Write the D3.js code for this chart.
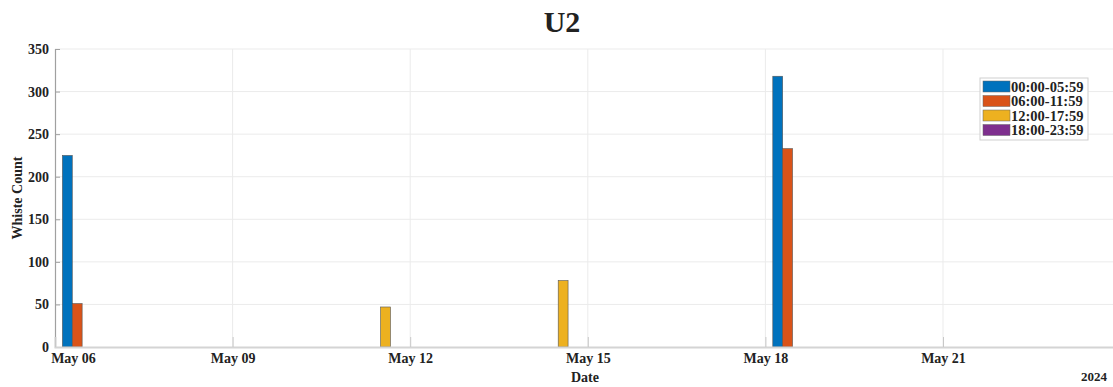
<html>
<head>
<script src="https://d3js.org/d3.v7.min.js"></script>
<style>
    body { margin: 0; background: #fff; }
    svg { display: block; }
    text { font-family: "Liberation Serif", "Times New Roman", serif; font-weight: bold; fill: #222; }
    .grid line { stroke: #ebebeb; stroke-width: 1; }
    .tick-label { font-size: 14px; }
</style>
</head>
<body>
<svg id="chart" width="1113" height="387"></svg>
<script>

    // days with counts (other days are zero)
    var days = ['2024-05-06', '2024-05-11', '2024-05-14', '2024-05-18'];
    var seriesNames = ['00:00-05:59', '06:00-11:59', '12:00-17:59', '18:00-23:59'];
    var seriesColors = ['#0072BD', '#D95319', '#EDB120', '#7E2F8E'];
    var night   = [225, 0, 0, 318];
    var morning = [51, 0, 0, 233];
    var noon    = [0, 47, 78, 0];
    var evening = [0, 0, 0, 0];
    var yTicks = [0, 50, 100, 150, 200, 250, 300, 350];
    var xTickDays = ['2024-05-06', '2024-05-09', '2024-05-12', '2024-05-15', '2024-05-18', '2024-05-21'];

    var seriesValues = [night, morning, noon, evening];
    var parse = d3.timeParse('%Y-%m-%d');

    var svg = d3.select('#chart');
    var margin = {left: 55, top: 49, bottom: 40};
    var height = +svg.attr('height');

    var x = d3.scaleTime()
        .domain([parse('2024-05-06'), parse('2024-05-24')])
        .range([margin.left, margin.left + 18 * 59.2]);

    var y = d3.scaleLinear()
        .domain([0, 350])
        .range([height - margin.bottom, margin.top]);

    // gridlines
    var grid = svg.append('g').attr('class', 'grid');
    grid.selectAll('.hg')
        .data(yTicks.slice(1))
      .enter().append('line')
        .attr('x1', margin.left).attr('x2', 1113)
        .attr('y1', function(d) { return y(d); })
        .attr('y2', function(d) { return y(d); });
    grid.selectAll('.vg')
        .data(xTickDays.slice(1))
      .enter().append('line')
        .attr('x1', function(d) { return x(parse(d)); })
        .attr('x2', function(d) { return x(parse(d)); })
        .attr('y1', y(350)).attr('y2', y(0));

    // bars: group centred at noon of each day, 4 slots
    var slot = d3.scaleBand()
        .domain(d3.range(seriesNames.length))
        .range([-0.372, 0.372])
        .paddingInner(0.14);

    var bars = [];
    seriesValues.forEach(function(vals, s) {
        vals.forEach(function(v, i) {
            if (v > 0) bars.push({day: parse(days[i]), s: s, v: v});
        });
    });

    svg.append('g').selectAll('rect')
        .data(bars)
      .enter().append('rect')
        .attr('x', function(d) { return x(d3.timeHour.offset(d.day, 12 + slot(d.s) * 24)); })
        .attr('width', function(d) {
            return x(d3.timeHour.offset(d.day, 12 + (slot(d.s) + slot.bandwidth()) * 24)) - x(d3.timeHour.offset(d.day, 12 + slot(d.s) * 24));
        })
        .attr('y', function(d) { return y(d.v); })
        .attr('height', function(d) { return y(0) - y(d.v); })
        .attr('fill', function(d) { return seriesColors[d.s]; })
        .attr('stroke', '#555')
        .attr('stroke-width', 0.6);

    // axes
    var yAxis = svg.append('g')
        .attr('transform', 'translate(' + margin.left + ',0)')
        .call(d3.axisLeft(y).tickValues(yTicks).tickSize(-5).tickPadding(6));
    yAxis.select('.domain').attr('stroke', '#a0a0a0').attr('stroke-width', 1.2);
    yAxis.selectAll('.tick line').attr('stroke', '#a0a0a0');
    yAxis.selectAll('.tick text').attr('class', 'tick-label').attr('fill', '#222');

    var xAxis = svg.append('g')
        .attr('transform', 'translate(0,' + y(0) + ')')
        .call(d3.axisBottom(x)
            .tickValues(xTickDays.map(parse))
            .tickFormat(d3.timeFormat('%b %d'))
            .tickSize(-10).tickPadding(6));
    xAxis.select('.domain').attr('stroke', '#d4d4d4').attr('stroke-width', 2);
    xAxis.selectAll('.tick line').attr('stroke', '#c8c8c8');
    xAxis.selectAll('.tick text').attr('class', 'tick-label').attr('fill', '#222');
    xAxis.select('.tick text').attr('dx', 18);

    // title and labels
    svg.append('text')
        .attr('x', 562).attr('y', 32)
        .attr('text-anchor', 'middle')
        .style('font-size', '30px')
        .text('U2');

    svg.append('text')
        .attr('transform', 'translate(22,' + y(175) + ') rotate(-90)')
        .attr('text-anchor', 'middle')
        .style('font-size', '14px')
        .text('Whiste Count');

    svg.append('text')
        .attr('x', 585).attr('y', 382)
        .attr('text-anchor', 'middle')
        .style('font-size', '14px')
        .text('Date');

    svg.append('text')
        .attr('x', 1107).attr('y', 381)
        .attr('text-anchor', 'end')
        .style('font-size', '13px')
        .text('2024');

    // legend
    var legend = svg.append('g').attr('transform', 'translate(980,78)');
    legend.append('rect')
        .attr('width', 108).attr('height', 62)
        .attr('fill', '#fff').attr('stroke', '#cfcfcf');
    var items = legend.selectAll('.item')
        .data(seriesNames)
      .enter().append('g')
        .attr('transform', function(d, i) { return 'translate(3,' + (3 + i * 14.5) + ')'; });
    items.append('rect')
        .attr('width', 27).attr('height', 11)
        .attr('fill', function(d, i) { return seriesColors[i]; })
        .attr('stroke', '#666').attr('stroke-width', 0.5);
    items.append('text')
        .attr('x', 28).attr('y', 10.5)
        .style('font-size', '14.5px')
        .text(function(d) { return d; });

</script>
</body>
</html>
